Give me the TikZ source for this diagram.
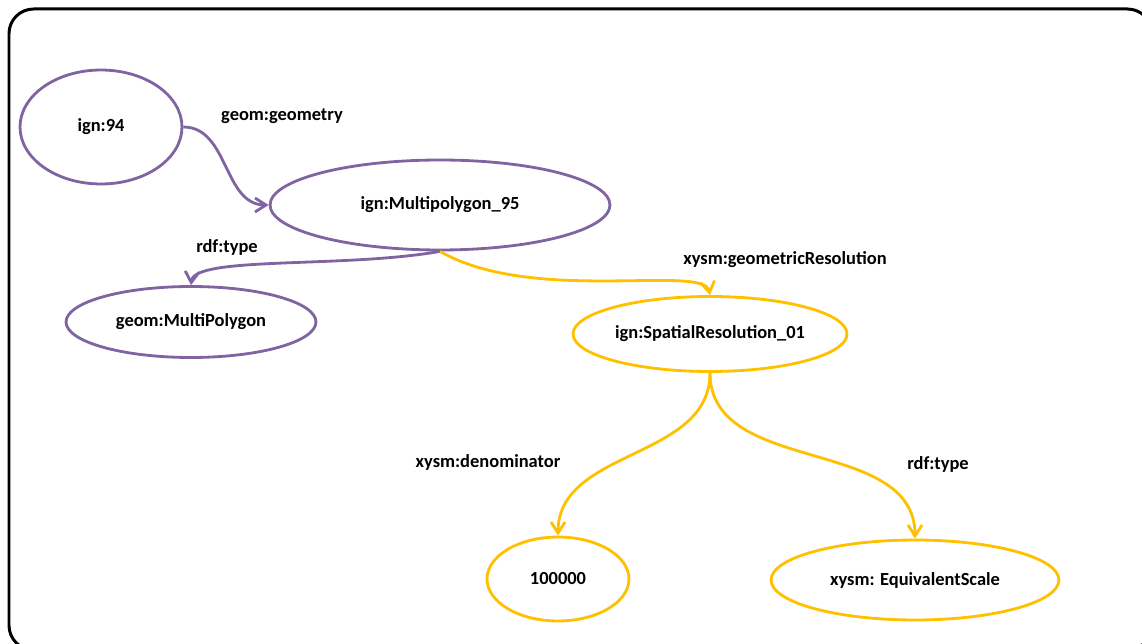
\documentclass[tikz,border=0pt]{standalone}
\usepackage{fontspec}
\setmainfont{Carlito}
\usepackage{tikz}
\usetikzlibrary{arrows.meta,shapes.geometric}
\definecolor{rdfpurple}{RGB}{128,100,162}
\definecolor{rdfgold}{RGB}{255,192,0}

\begin{document}
\begin{tikzpicture}[x=0.02cm,y=-0.02cm,>={Straight Barb[length=2.2mm,width=2.8mm]},
  every node/.style={font=\bfseries\fontsize{10.5}{12}\selectfont},
  res/.style={draw,ellipse,line width=1.6pt,inner sep=0pt},
  link/.style={->,line width=1.6pt}]
  \clip (0,0) rectangle (1142,644);
  \draw[line width=1.7pt,rounded corners=14pt] (9,9) rectangle (1152,650);
  % resources
  \node[res,draw=rdfpurple,minimum width=3.24cm,minimum height=2.28cm] (ign94) at (101,127) {ign:94};
  \node[res,draw=rdfpurple,minimum width=6.8cm,minimum height=1.8cm] (mp) at (440,205) {ign:Multipolygon\_95};
  \node[res,draw=rdfpurple,minimum width=5.0cm,minimum height=1.42cm] (gmp) at (191,322) {geom:MultiPolygon};
  \node[res,draw=rdfgold,minimum width=5.48cm,minimum height=1.5cm] (sr) at (710,334) {ign:SpatialResolution\_01};
  \node[res,draw=rdfgold,minimum width=2.84cm,minimum height=1.68cm] (num) at (558,579) {100000};
  \node[res,draw=rdfgold,minimum width=5.76cm,minimum height=1.6cm] (eqs) at (915,580) {xysm: EquivalentScale};
  % property labels
  \node (lgeom) at (282,116) {geom:geometry};
  \node (ltype1) at (227,247) {rdf:type};
  \node (lres) at (785,260) {xysm:geometricResolution};
  \node (lden) at (488,462) {xysm:denominator};
  \node (ltype2) at (938,464) {rdf:type};
  % properties
  \draw[link,rdfpurple] (ign94.east) to[out=0,in=180] (mp.west);
  \draw[link,rdfpurple] (mp.south) to[out=190,in=85,in looseness=0.3] (gmp.north);
  \draw[link,rdfgold] (mp.south) to[out=-30,in=100,in looseness=0.3] (sr.north);
  \draw[link,rdfgold] (sr.south) to[out=-90,in=90] (num.north);
  \draw[link,rdfgold] (sr.south) to[out=-90,in=90] (eqs.north);
\end{tikzpicture}
\end{document}
